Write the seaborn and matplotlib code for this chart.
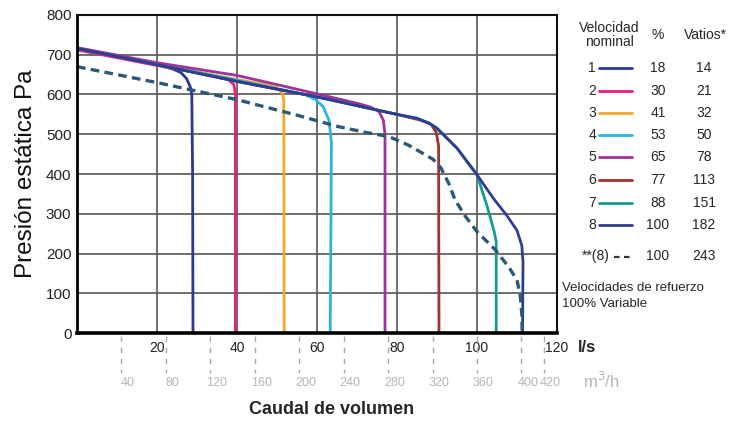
import numpy as np
import pandas as pd
import seaborn as sns
import matplotlib.pyplot as plt
from matplotlib.lines import Line2D

# Curvas de velocidad: caudal (l/s) vs presión estática (Pa)
v1_x = [0, 20, 24, 26, 27.4, 28.3, 28.7, 28.9, 29.0]
v1_y = [715, 675, 664, 655, 640, 620, 600, 400, 0]
v2_x = [0, 20, 34, 37.5, 39.2, 39.6, 39.6]
v2_y = [712, 673, 648, 640, 625, 600, 0]
v3_x = [0, 20, 40, 47, 50, 51.3, 51.7, 51.8]
v3_y = [716, 676, 638, 625, 617, 603, 585, 0]
v4_x = [0, 20, 40, 57, 59.5, 61.5, 63, 63.6, 63.5, 63.3]
v4_y = [716, 676, 636, 600, 588, 570, 535, 480, 300, 0]
v5_x = [0, 20, 40, 56, 70, 73.5, 75.5, 76.6, 77, 77]
v5_y = [718, 680, 648, 611, 578, 568, 557, 535, 500, 0]
v6_x = [0, 20, 40, 60, 80, 86, 88.5, 89.8, 90.4, 90.5]
v6_y = [716, 675, 633, 594, 550, 535, 525, 505, 470, 0]
v7_x = [0, 20, 40, 60, 80, 85, 88, 90, 95, 100, 102.5, 104.3, 104.8, 104.8]
v7_y = [716, 675, 633, 594, 550, 540, 528, 515, 465, 398, 320, 255, 230, 0]
v8_x = [0, 20, 40, 60, 80, 85, 88, 90, 95, 100, 104, 107.5, 110, 111.2, 111.5, 111.4]
v8_y = [716, 675, 633, 594, 550, 540, 528, 515, 465, 398, 340, 295, 258, 220, 180, 0]

# Velocidad de refuerzo **(8)
boost_x = [0, 20, 40, 55, 65, 72, 78, 83, 89, 91, 93, 94.5, 97, 100, 104.5, 108, 110, 110.8, 111.2, 111.3]
boost_y = [670, 630, 587, 548, 520, 505, 494, 472, 437, 415, 375, 335, 295, 255, 210, 165, 133, 95, 50, 0]

velocidades = ['1', '2', '3', '4', '5', '6', '7', '8']
porcentaje = ['18', '30', '41', '53', '65', '77', '88', '100']
vatios = ['14', '21', '32', '50', '78', '113', '151', '182']
colores = ['#2b3990', '#e8207c', '#f5a623', '#29b5e3', '#a0339b', '#a3322e', '#179a8d', '#2f3b94']
boost_color = '#2d5874'

ls_ticks = [0, 20, 40, 60, 80, 100, 120]
m3h_ticks = [40, 80, 120, 160, 200, 240, 280, 320, 360, 400, 420]
pa_ticks = [0, 100, 200, 300, 400, 500, 600, 700, 800]

curvas = [(v1_x, v1_y), (v2_x, v2_y), (v3_x, v3_y), (v4_x, v4_y),
          (v5_x, v5_y), (v6_x, v6_y), (v7_x, v7_y), (v8_x, v8_y)]
df = pd.concat([pd.DataFrame({'caudal': cx, 'presion': cy, 'velocidad': v})
                for v, (cx, cy) in zip(velocidades, curvas)], ignore_index=True)

sns.set_style('white')
plt.rcParams['font.family'] = ['Liberation Sans', 'DejaVu Sans']

fig = plt.figure(figsize=(7.36, 4.23), dpi=100)
ax = fig.add_axes([77 / 736, 1 - 333 / 423, 480 / 736, 318 / 423])

def fx(px):
    return px / 736

def fy(py):
    return 1 - py / 423

sns.lineplot(data=df, x='caudal', y='presion', hue='velocidad',
             palette=dict(zip(velocidades, colores)), sort=False, estimator=None,
             linewidth=2, legend=False, ax=ax)
sns.lineplot(x=boost_x, y=boost_y, sort=False, estimator=None, color=boost_color,
             linewidth=2.4, linestyle=(0, (2.6, 1.6)), ax=ax)

ax.set_xlim(0, 120)
ax.set_ylim(0, 800)
ax.set_xticks(ls_ticks)
ax.set_xticklabels([''] + [str(t) for t in ls_ticks[1:]])
ax.set_yticks(pa_ticks)
ax.tick_params(axis='both', length=0, colors='#222222')
ax.tick_params(axis='x', pad=6, labelsize=10)
ax.tick_params(axis='y', pad=4, labelsize=11)
ax.grid(True, color='#555555', linewidth=1.2)
ax.set_axisbelow(True)
for side in ['top', 'right']:
    ax.spines[side].set_color('#111111')
    ax.spines[side].set_linewidth(1.5)
ax.spines['left'].set_color('black')
ax.spines['left'].set_linewidth(2)
ax.spines['bottom'].set_color('black')
ax.spines['bottom'].set_linewidth(2.6)

ax.set_ylabel('Presión estática Pa', fontsize=17.5, color='#111111')
ax.yaxis.set_label_coords(-0.083, 0.5)
ax.set_xlabel('Caudal de volumen', fontsize=13, fontweight='bold')
ax.xaxis.set_label_coords(0.53, -0.215)

# eje secundario m3/h (marcas discontinuas y etiquetas)
ax.vlines(np.array(m3h_ticks) / 3.6, -0.01, -0.125, transform=ax.get_xaxis_transform(),
          colors='#aaaaaa', linewidth=1, linestyles=(0, (4, 4)), clip_on=False)
for m in m3h_ticks:
    ax.text(m / 3.6 + 1.6, -0.157, str(m), transform=ax.get_xaxis_transform(),
            fontsize=9, color='#b5b5b5', ha='center', va='center')

fig.text(fx(578), fy(347), 'l/s', fontsize=12, fontweight='bold', va='center')
fig.text(fx(583), fy(381), 'm$^3$/h', fontsize=12, color='#b5b5b5', va='center')

# tabla de leyenda
fig.text(fx(609), fy(35), 'Velocidad\nnominal', fontsize=10, ha='center', va='center',
         linespacing=0.95)
fig.text(fx(658), fy(35), '%', fontsize=10, ha='center', va='center')
fig.text(fx(705), fy(35), 'Vatios*', fontsize=10, ha='center', va='center')
row_y = [68, 91, 113, 135, 157, 180, 203, 225]
for v, p, w, c, ry in zip(velocidades, porcentaje, vatios, colores, row_y):
    fig.text(fx(596), fy(ry), v, fontsize=10, ha='right', va='center')
    fig.add_artist(Line2D([fx(599), fx(632)], [fy(ry), fy(ry)], color=c, linewidth=2))
    fig.text(fx(658), fy(ry), p, fontsize=10, ha='center', va='center')
    fig.text(fx(704), fy(ry), w, fontsize=10, ha='center', va='center')
fig.text(fx(582), fy(256), '**(8)', fontsize=10, ha='left', va='center')
fig.add_artist(Line2D([fx(614), fx(632)], [fy(257), fy(257)], color='#333344',
                      linewidth=1.6, linestyle=(0, (2.5, 2))))
fig.text(fx(658), fy(256), '100', fontsize=10, ha='center', va='center')
fig.text(fx(704), fy(256), '243', fontsize=10, ha='center', va='center')
fig.text(fx(562), fy(288), 'Velocidades de refuerzo', fontsize=9.5, ha='left', va='center')
fig.text(fx(562), fy(304), '100% Variable', fontsize=9.5, ha='left', va='center')

fig.savefig('out.png', dpi=100)
